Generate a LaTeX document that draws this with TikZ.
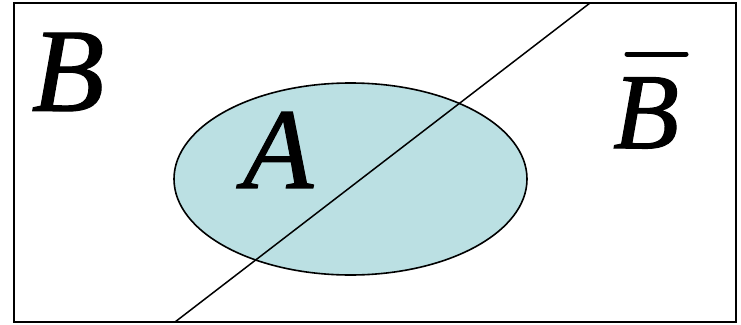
\documentclass[tikz,border=0pt]{standalone}
\usepackage{fontspec}
\setmainfont{Liberation Serif}[ItalicFont={Liberation Serif Italic},ItalicFeatures={FakeBold=1}]
\usetikzlibrary{shapes.geometric}
\definecolor{setfill}{RGB}{187,224,227}
\begin{document}
\begin{tikzpicture}[x=1pt,y=-1pt,
  lbl/.style={inner sep=0pt, font=\itshape}]
\useasboundingbox (0,0) rectangle (741,324);
\draw[line width=1.8pt] (14,3) rectangle (736,322);
\node[ellipse, draw, fill=setfill, line width=1.6pt, minimum width=353pt, minimum height=192pt, inner sep=0pt] (A) at (350.5,179) {};
\coordinate (p) at (175,322);
\coordinate (q) at (590,3);
\draw[line width=1.5pt] (p) -- (q);
\node[lbl, font=\itshape\fontsize{119}{119}\selectfont] (b) at (68,72) {B};
\node[lbl, font=\itshape\fontsize{115}{115}\selectfont] (a) at (278,150) {A};
\node[lbl, font=\itshape\fontsize{108}{108}\selectfont] (nb) at (646,113) {B};
\coordinate (bl) at (627,54);
\coordinate (br) at (686,54);
\draw[line width=5pt, line cap=round] (bl) -- (br);
\end{tikzpicture}
\end{document}
